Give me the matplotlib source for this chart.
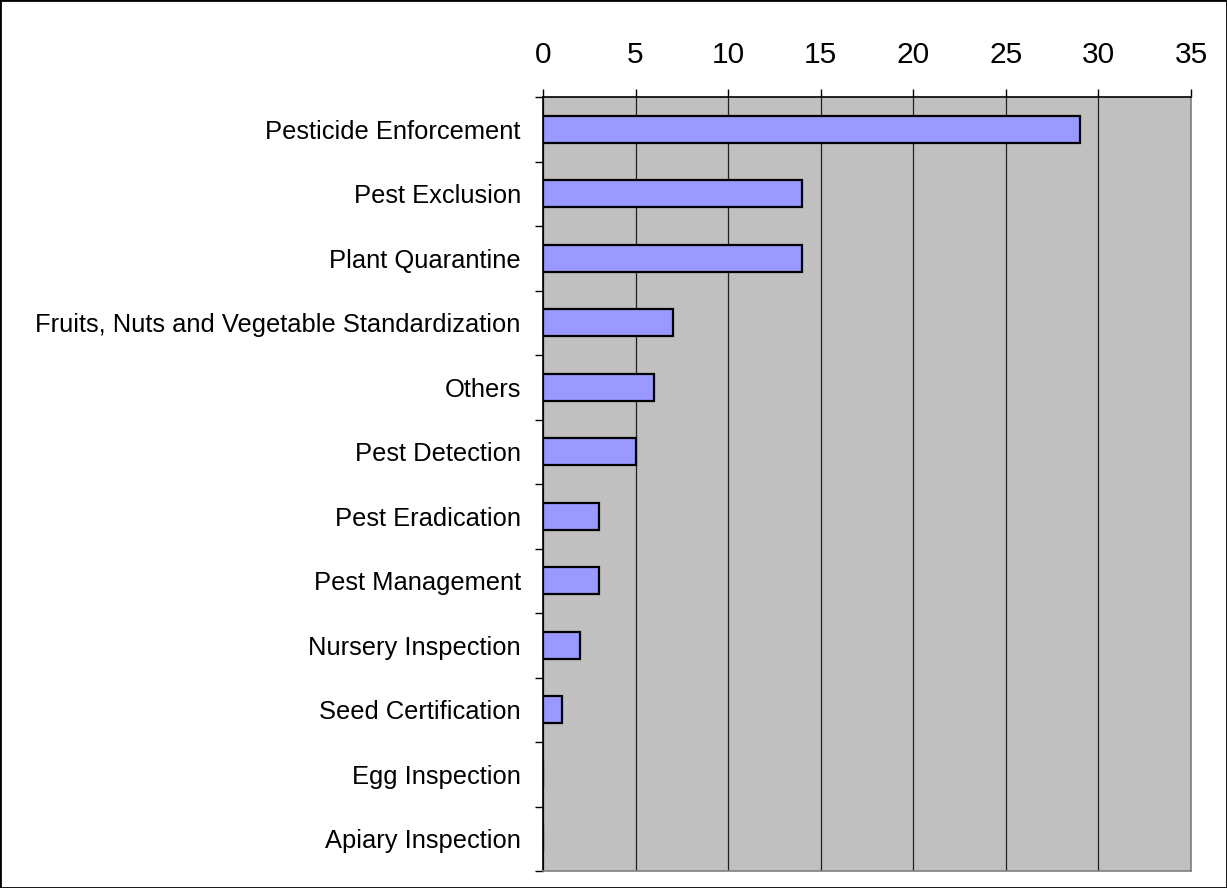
import matplotlib

matplotlib.use("Agg")
from matplotlib import pyplot as plt
from matplotlib.patches import Rectangle
import numpy as np

categories = [
    "Pesticide Enforcement",
    "Pest Exclusion",
    "Plant Quarantine",
    "Fruits, Nuts and Vegetable Standardization",
    "Others",
    "Pest Detection",
    "Pest Eradication",
    "Pest Management",
    "Nursery Inspection",
    "Seed Certification",
    "Egg Inspection",
    "Apiary Inspection",
]
counts = [29, 14, 14, 7, 6, 5, 3, 3, 2, 1, 0, 0]
x_ticks = [0, 5, 10, 15, 20, 25, 30, 35]

plt.rcParams["font.family"] = ["Liberation Sans", "DejaVu Sans"]

fig = plt.figure(figsize=(12.27, 8.88), dpi=100)
fig.patch.set_facecolor("white")
ax = fig.add_axes([543 / 1227, 1 - 871 / 888, 648 / 1227, 774 / 888])
ax.set_facecolor("#C0C0C0")

y_pos = np.arange(len(categories))
ax.barh(y_pos, counts, height=0.42, color="#9999FF", edgecolor="black",
        linewidth=1.6, zorder=3)

ax.set_xlim(0, 35)
ax.set_ylim(len(categories) - 0.5, -0.5)
ax.xaxis.tick_top()
ax.set_xticks(x_ticks)
ax.set_xticklabels([str(t) for t in x_ticks], fontsize=21.5)
ax.tick_params(axis="x", direction="out", length=6, width=1, pad=14, colors="black")
ax.grid(axis="x", color="#202020", linewidth=0.9, zorder=1)

ax.set_yticks(y_pos)
ax.set_yticklabels(categories, fontsize=18.4)
ax.tick_params(axis="y", which="major", length=0, pad=16)
ax.set_yticks(np.arange(-0.5, len(categories), 1.0), minor=True)
ax.tick_params(axis="y", which="minor", direction="out", length=6, width=1)

ax.spines["left"].set_color("black")
ax.spines["top"].set_color("black")
ax.spines["right"].set_color("#808080")
ax.spines["bottom"].set_color("#808080")
for s in ax.spines.values():
    s.set_linewidth(1.2)

fig.patches.append(Rectangle((0, 0), 1, 1, transform=fig.transFigure,
                             fill=False, edgecolor="black", linewidth=2))

fig.savefig("out.png", dpi=100)
